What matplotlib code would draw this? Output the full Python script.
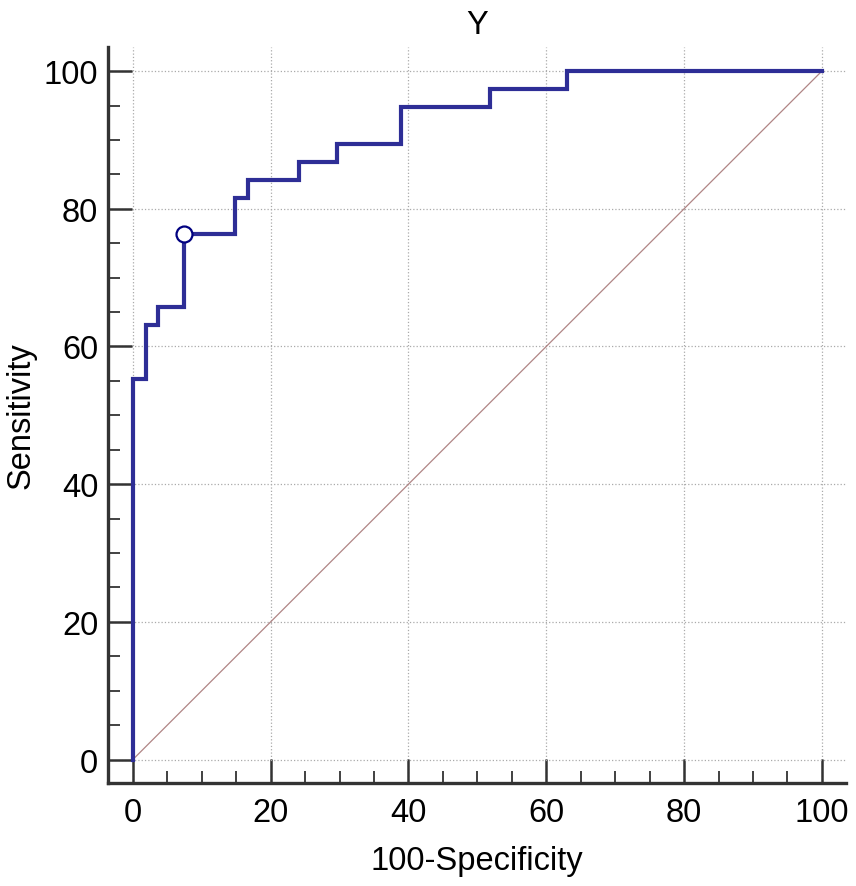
import matplotlib
matplotlib.use("Agg")
import matplotlib.pyplot as plt
from matplotlib.ticker import MultipleLocator

plt.rcParams['font.family'] = ['Liberation Sans', 'DejaVu Sans']

# ROC curve points (100-Specificity, Sensitivity), step shape
fpr = [0, 0, 1.85, 1.85, 3.70, 3.70, 7.41, 7.41, 14.81, 14.81, 16.67, 16.67,
       24.07, 24.07, 29.63, 29.63, 38.89, 38.89, 51.85, 51.85, 62.96, 62.96, 100]
tpr = [0, 55.26, 55.26, 63.16, 63.16, 65.79, 65.79, 76.32, 76.32, 81.58, 81.58, 84.21,
       84.21, 86.84, 86.84, 89.47, 89.47, 94.74, 94.74, 97.37, 97.37, 100, 100]
# optimal cut-off point
cut_x = [7.41]
cut_y = [76.32]
ref_line = [0, 100]

fs = 23.5

fig = plt.figure(figsize=(8.56, 8.87), dpi=100)
ax = fig.add_axes([108/856, 1-784/887, (846-108)/856, (784-48)/887])

ax.plot(ref_line, ref_line, color="#B08585", lw=0.9, zorder=2)
ax.plot(fpr, tpr, color="#2E2E96", lw=3.0, zorder=3, solid_joinstyle="miter")
ax.plot(cut_x, cut_y, "o", ms=11.5, mfc="white", mec="#000080", mew=1.6, zorder=4)

ax.set_xlim(-3.6, 103.5)
ax.set_ylim(-3.4, 103.5)
ax.xaxis.set_major_locator(MultipleLocator(20))
ax.yaxis.set_major_locator(MultipleLocator(20))
ax.xaxis.set_minor_locator(MultipleLocator(5))
ax.yaxis.set_minor_locator(MultipleLocator(5))

ax.spines['top'].set_visible(False)
ax.spines['right'].set_visible(False)
for s in ['left', 'bottom']:
    ax.spines[s].set_linewidth(2.4)
    ax.spines[s].set_color("#333333")

ax.tick_params(which='major', direction='in', length=17, width=1.8, color="#333333",
               labelsize=fs, pad=7)
ax.tick_params(which='minor', direction='in', length=8.5, width=1.3, color="#333333")
ax.tick_params(axis='x', which='major', pad=10)

ax.grid(True, which='major', linestyle=':', color="#AAAAAA", lw=0.9)
ax.set_axisbelow(True)

ax.set_title("Y", fontsize=fs, pad=10)
ax.set_xlabel("100-Specificity", fontsize=fs, labelpad=12)
ax.set_ylabel("Sensitivity", fontsize=fs, labelpad=5)

fig.savefig("out.png", dpi=100)
